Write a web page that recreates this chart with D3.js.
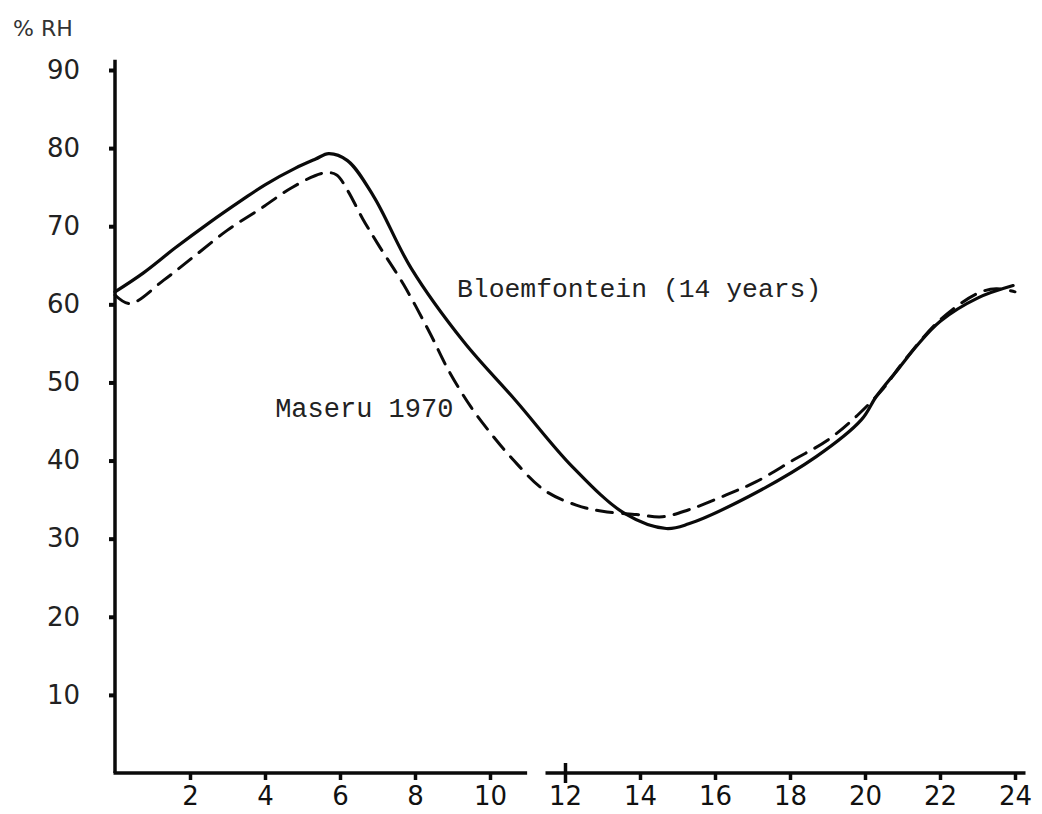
<!DOCTYPE html>
<html>
<head>
<meta charset="utf-8">
<script src="https://cdn.jsdelivr.net/npm/d3@7"></script>
<style>
  html, body { margin: 0; padding: 0; background: #fff; }
  svg { display: block; }
</style>
</head>
<body>
<svg id="chart" width="1042" height="814"></svg>
<script>
// ---- data (hour of day, relative humidity %) ----
const xTicks = [2, 4, 6, 8, 10, 12, 14, 16, 18, 20, 22, 24];
const yTicks = [10, 20, 30, 40, 50, 60, 70, 80, 90];

const bloemHours = [0, 0.75, 1.6, 2.5, 3.4, 4.0, 4.8, 5.35, 5.7, 6.2, 6.9, 7.9, 9.3, 10.7, 12.2, 13.6, 14.7, 15.3, 16.9, 18.7, 19.9, 20.3, 20.9, 21.4, 22, 23, 23.95];
const bloemRH    = [61.6, 64.0, 67.2, 70.4, 73.4, 75.3, 77.4, 78.6, 79.3, 78.4, 73.8, 64.6, 55.2, 47.6, 39.2, 33.2, 31.3, 31.9, 35.4, 40.5, 45.2, 48.2, 51.8, 54.8, 57.8, 60.8, 62.4];

const maseruHours = [0, 0.4, 1.3, 2.1, 3.0, 3.9, 4.7, 5.55, 5.9, 6.2, 6.6, 7.0, 7.7, 8.4, 8.9, 9.5, 10.0, 10.6, 11.45, 12.3, 13.0, 13.9, 14.6, 15.3, 16.3, 17.1, 18.1, 19.0, 19.8, 20.5, 21.0, 22, 23, 23.5, 24];
const maseruRH    = [61.2, 60.1, 63.1, 66.1, 69.5, 72.3, 74.9, 76.8, 76.6, 74.6, 71.0, 67.8, 62.5, 56.3, 51.5, 46.8, 43.6, 40.2, 36.2, 34.3, 33.5, 33.1, 32.8, 33.7, 35.6, 37.3, 40.1, 42.6, 45.8, 49.3, 52.5, 58.0, 61.4, 62.0, 61.6];

const yAxisTitle = "% RH";
const bloemLabel = "Bloemfontein (14 years)";
const maseruLabel = "Maseru 1970";

// ---- scales ----
const svg = d3.select("#chart");
const x = d3.scaleLinear().domain([0, 24]).range([115, 1015]);
const y = d3.scaleLinear().domain([0, 90]).range([773, 70]);

const ink = "#0a0a0a";
const tickFont = "'DejaVu Sans', sans-serif";

// ---- y axis ----
const yAxis = d3.axisLeft(y).tickValues(yTicks).tickSizeInner(6).tickSizeOuter(0).tickPadding(29);
const gy = svg.append("g").attr("transform", `translate(${x(0)},0)`).call(yAxis);
gy.select(".domain").remove();
gy.selectAll(".tick line").attr("stroke", ink).attr("stroke-width", 4);
gy.selectAll(".tick text").attr("font-family", tickFont).attr("font-size", 26).attr("fill", "#222");
svg.append("line")
  .attr("x1", x(0)).attr("x2", x(0))
  .attr("y1", y(91.3)).attr("y2", y(0))
  .attr("stroke", ink).attr("stroke-width", 3.5);

// ---- x axis ----
const xAxis = d3.axisBottom(x).tickValues(xTicks).tickSizeInner(7).tickSizeOuter(0).tickPadding(7);
const gx = svg.append("g").attr("transform", `translate(0,${y(0)})`).call(xAxis);
gx.select(".domain").remove();
gx.selectAll(".tick line").attr("stroke", ink).attr("stroke-width", 3.5);
gx.selectAll(".tick text").attr("font-family", tickFont).attr("font-size", 26).attr("fill", "#111");
gx.selectAll(".tick").filter(d => d === 12).select("line").attr("y1", -10).attr("y2", 10);
// axis with a break between 11 and 11.5 h
[[0, 10.99], [11.52, 24.28]].forEach(([a, b]) => {
  svg.append("line")
    .attr("x1", x(a) - 1.5).attr("x2", x(b))
    .attr("y1", y(0)).attr("y2", y(0))
    .attr("stroke", ink).attr("stroke-width", 3.5);
});

// y axis title
svg.append("text")
  .attr("x", 13).attr("y", 36)
  .attr("font-family", tickFont).attr("font-size", 22).attr("fill", "#333")
  .text(yAxisTitle);

// ---- curves ----
const line = d3.line()
  .x(d => x(d[0])).y(d => y(d[1]))
  .curve(d3.curveCatmullRom.alpha(0.5));

svg.append("path")
  .datum(d3.zip(bloemHours, bloemRH))
  .attr("d", line)
  .attr("fill", "none").attr("stroke", ink).attr("stroke-width", 3.2)
  .attr("stroke-linejoin", "round").attr("stroke-linecap", "round");

svg.append("path")
  .datum(d3.zip(maseruHours, maseruRH))
  .attr("d", line)
  .attr("fill", "none").attr("stroke", ink).attr("stroke-width", 3)
  .attr("stroke-dasharray", "16,10")
  .attr("stroke-linecap", "round");

// ---- curve labels ----
const monoFont = "'Liberation Mono', 'Courier New', monospace";
svg.append("text")
  .attr("x", x(9.12)).attr("y", y(61.0))
  .attr("font-family", monoFont).attr("font-size", 26.4).attr("fill", "#222")
  .text(bloemLabel);
svg.append("text")
  .attr("x", x(4.27)).attr("y", y(45.6))
  .attr("font-family", monoFont).attr("font-size", 27).attr("fill", "#222")
  .text(maseruLabel);
</script>
</body>
</html>
